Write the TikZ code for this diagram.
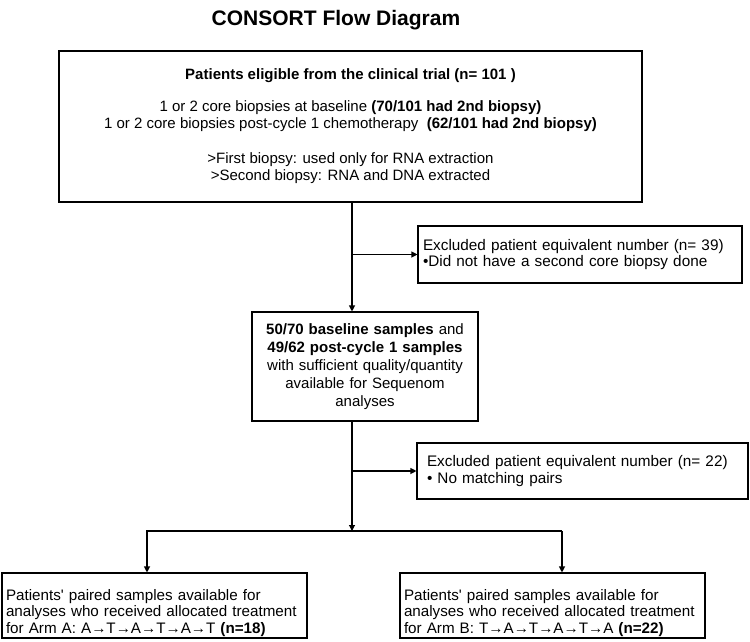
\documentclass[tikz,border=0pt]{standalone}
\usepackage{fontspec}
\setmainfont{Liberation Sans}[Ligatures=TeXOff]
\usetikzlibrary{arrows.meta}

\begin{document}
\begin{tikzpicture}[x=1pt,y=-1pt,
    box/.style={draw, line width=1.1pt, inner xsep=5pt, inner ysep=3pt},
    arr/.style={line width=1.1pt, -{Triangle[length=6pt,width=6pt]}}]
  \useasboundingbox (0,0) rectangle (750,642);
  \node (title) at (336,20) {\fontsize{21}{25}\selectfont\bfseries CONSORT Flow Diagram};

  \node[box, minimum width=583pt, minimum height=151pt, align=center,
        font=\fontsize{15}{17.5}\selectfont] (elig) at (350.5,126.5)
    {\textbf{Patients eligible from the clinical trial (n= 101 )}\\[14pt]
     1 or 2 core biopsies at baseline \textbf{(70/101 had 2nd biopsy)}\\
     1 or 2 core biopsies post-cycle 1 chemotherapy\ \ \textbf{(62/101 had 2nd biopsy)}\\[17pt]
     >First biopsy: used only for RNA extraction\\
     >Second biopsy: RNA and DNA extracted};
  \node[box, text width=314pt, minimum height=57pt, align=left,
        font=\fontsize{15.3}{16.5}\selectfont] (excl1) at (580,254.5)
    {\mbox{Excluded patient equivalent number (n= 39)}\\
     \mbox{•Did not have a second core biopsy done}};
  \node[box, text width=216pt, minimum height=109pt, align=center,
        font=\fontsize{15}{18}\selectfont] (samples) at (365,366.5)
    {\textbf{50/70 baseline samples} and\\
     \textbf{49/62 post-cycle 1 samples}\\
     with sufficient quality/quantity\\
     available for Sequenom\\
     analyses};
  \node[box, inner xsep=10pt, text width=311pt, minimum height=56pt, align=left,
        font=\fontsize{15.3}{17}\selectfont] (excl2) at (582.5,471)
    {\mbox{Excluded patient equivalent number (n= 22)}\\
     \mbox{• No matching pairs}};
  \node[box, inner xsep=4pt, inner ysep=1pt, text width=297pt, minimum height=65pt, align=left,
        font=\fontsize{15.2}{16.8}\selectfont] (armA) at (154.5,605.5)
    {\rule{0pt}{26pt}\mbox{Patients' paired samples available for}\\
     \mbox{analyses who received allocated treatment}\\
     \mbox{for Arm A: A→T→A→T→A→T \textbf{(n=18)}}};
  \node[box, inner xsep=4pt, inner ysep=1pt, text width=297pt, minimum height=65pt, align=left,
        font=\fontsize{15.2}{16.8}\selectfont] (armB) at (552.5,605.5)
    {\rule{0pt}{26pt}\mbox{Patients' paired samples available for}\\
     \mbox{analyses who received allocated treatment}\\
     \mbox{for Arm B: T→A→T→A→T→A \textbf{(n=22)}}};

  \coordinate (trunk) at (352,0);
  \coordinate (split) at (352,531);
  \coordinate (splitA) at (147,531);
  \coordinate (splitB) at (562,531);
  \draw[arr] (trunk |- elig.south) -- (trunk |- samples.north);
  \draw[arr] (trunk |- excl1.west) -- (excl1.west);
  \draw[arr] (trunk |- samples.south) -- (split);
  \draw[arr] (trunk |- excl2.west) -- (excl2.west);
  \draw[arr] (splitB) -- (splitA) -- (splitA |- armA.north);
  \draw[arr] (splitB) -- (splitB |- armB.north);
\end{tikzpicture}
\end{document}
